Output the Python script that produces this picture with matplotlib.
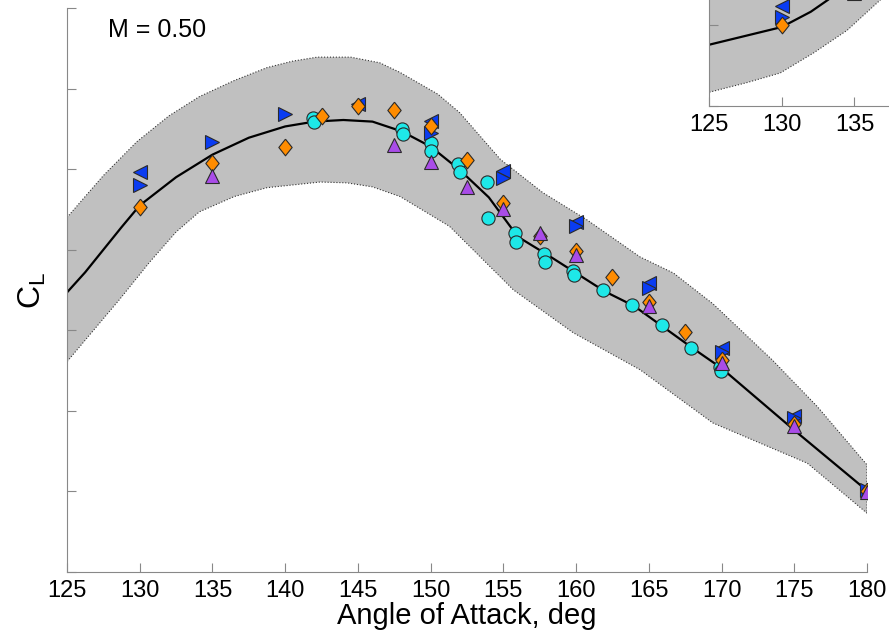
import numpy as np
import matplotlib
matplotlib.use("Agg")
import matplotlib.pyplot as plt

plt.rcParams["font.family"] = ["Liberation Sans", "DejaVu Sans"]

# ---- main panel data (M = 0.50), y in arbitrary C_L units (ticks every 1) ----
fit_x = [125, 126.25, 127.5, 128.75, 130, 132.5, 135, 137.5, 140, 142, 144, 146,
         148, 150, 152, 154, 156, 158, 160, 162, 164, 166, 168, 170, 175, 180]
fit_y = [3.47, 3.72, 4.00, 4.28, 4.55, 4.90, 5.18, 5.39, 5.53, 5.59, 5.61, 5.59,
         5.47, 5.28, 4.99, 4.65, 4.16, 3.94, 3.71, 3.48, 3.30, 3.04, 2.78, 2.53,
         1.76, 1.01]

band_up_x = [125, 127.5, 129.8, 132, 134.1, 136.5, 138.75, 140.5, 142.2, 144.5,
             146.5, 147.9, 150.5, 152.0, 154.8, 157.7, 160.75, 164.4, 166.7,
             169.4, 173.5, 176.6, 180]
band_up_y = [4.40, 4.92, 5.34, 5.66, 5.90, 6.10, 6.26, 6.34, 6.39, 6.39,
             6.32, 6.20, 5.93, 5.70, 5.12, 4.71, 4.37, 3.91, 3.71,
             3.33, 2.63, 2.05, 1.33]
band_lo_x = [125, 128.6, 130.7, 132.5, 134.1, 136.5, 138.75, 142.4, 144.25,
             146.0, 147.9, 151.3, 155.7, 159.8, 164.4, 169.4, 175.9, 180]
band_lo_y = [2.61, 3.38, 3.85, 4.22, 4.47, 4.66, 4.77, 4.84, 4.83,
             4.78, 4.66, 4.29, 3.50, 2.97, 2.51, 1.85, 1.35, 0.73]

lt_x = [130, 145, 150, 155, 160, 165, 170, 175, 180]
lt_y = [4.96, 5.81, 5.60, 4.98, 4.35, 3.59, 2.78, 1.94, 1.02]

rt_x = [130, 135, 140, 150, 155, 160, 165, 170, 175, 180]
rt_y = [4.80, 5.34, 5.69, 5.45, 4.89, 4.29, 3.52, 2.73, 1.91, 1.02]

dia_x = [130, 135, 140, 142.5, 145, 147.5, 150, 152.5, 155, 157.5, 160, 162.5,
         165, 167.5, 170, 175, 180]
dia_y = [4.53, 5.08, 5.27, 5.66, 5.78, 5.74, 5.53, 5.11, 4.58, 4.17, 3.98, 3.66,
         3.35, 2.98, 2.63, 1.84, 1.01]

tri_x = [135, 147.5, 150, 152.5, 155, 157.5, 160, 165, 170, 175, 180]
tri_y = [4.91, 5.30, 5.09, 4.78, 4.50, 4.21, 3.94, 3.30, 2.60, 1.81, 0.99]

circ_x = [141.9, 142.0, 148.0, 148.1, 150.0, 150.05, 151.9, 152.0, 153.9, 153.95,
          155.8, 155.85, 157.8, 157.85, 159.8, 159.85, 161.85, 163.85, 165.9,
          167.9, 169.9, 169.95]
circ_y = [5.63, 5.58, 5.50, 5.43, 5.32, 5.23, 5.06, 4.96, 4.84, 4.39,
          4.21, 4.10, 3.95, 3.85, 3.73, 3.69, 3.50, 3.32, 3.06,
          2.78, 2.55, 2.50]

# ---- neighbouring panel (cropped at top right) ----
ins_fit_x = [125, 130, 132, 133.2, 135, 137]
ins_fit_y = [0.76, 0.98, 1.17, 1.32, 1.60, 1.95]
ins_up_x = [125, 130, 135, 140]
ins_up_y = [1.50, 1.80, 2.30, 2.80]
ins_lo_x = [125, 127.6, 129.9, 132.2, 134.5, 136.8, 139]
ins_lo_y = [0.17, 0.29, 0.41, 0.66, 0.94, 1.32, 1.70]
ins_lt = ([130], [1.24])
ins_rt = ([130], [1.11])
ins_dia = ([130], [1.01])
ins_tri = ([135], [1.40])

xticks = list(range(125, 181, 5))

blue = "#0a3cf2"
orange = "#ff8c00"
purple = "#a94ce8"
cyan = "#1ee8e8"
edge = "#2a2a2a"
diamond = [(0, 1), (0.8, 0), (0, -1), (-0.8, 0), (0, 1)]


def draw_panel(ax, fx, fy, ux, uy, lx, ly, pts, ticks):
    poly_x = list(ux) + list(lx)[::-1]
    poly_y = list(uy) + list(ly)[::-1]
    ax.fill(poly_x, poly_y, facecolor="#c0c0c0", edgecolor="#333333",
            linestyle=":", linewidth=0.8, zorder=1)
    ax.plot(fx, fy, color="black", lw=1.6, zorder=2)
    for (px, py), kw in pts:
        ax.plot(px, py, linestyle="none", markeredgecolor=edge,
                markeredgewidth=0.8, zorder=3, **kw)
    ax.set_xlim(125, 180)
    ax.set_ylim(0, 7)
    ax.set_xticks(ticks)
    ax.set_yticks(range(0, 8))
    ax.set_yticklabels([])
    ax.tick_params(direction="in", length=6.5, color="#888888", labelsize=17,
                   pad=6)
    for s in ["top", "right"]:
        ax.spines[s].set_visible(False)
    for s in ["left", "bottom"]:
        ax.spines[s].set_color("#888888")


fig = plt.figure(figsize=(8.89, 6.32), dpi=100)
ax = fig.add_axes([67 / 889, 60 / 632, 800 / 889, 564 / 632])
draw_panel(ax, fit_x, fit_y, band_up_x, band_up_y, band_lo_x, band_lo_y, [
    ((circ_x, circ_y), dict(marker="o", ms=9.5, color=cyan)),
    ((lt_x, lt_y), dict(marker="<", ms=10.5, color=blue)),
    ((rt_x, rt_y), dict(marker=">", ms=10.5, color=blue)),
    ((dia_x, dia_y), dict(marker=diamond, ms=12, color=orange)),
    ((tri_x, tri_y), dict(marker="^", ms=10.5, color=purple)),
], xticks)
ax.set_xlabel("Angle of Attack, deg", fontsize=21, labelpad=0)
ax.set_ylabel(r"C$_\mathregular{L}$", fontsize=23, labelpad=8)
ax.text(0.051, 0.961, "M = 0.50", transform=ax.transAxes, fontsize=18,
        va="center", ha="left")

ins = fig.add_axes([709 / 889, (632 - 106) / 632, 800 / 889, 564 / 632])
draw_panel(ins, ins_fit_x, ins_fit_y, ins_up_x, ins_up_y, ins_lo_x, ins_lo_y, [
    (ins_lt, dict(marker="<", ms=10.5, color=blue)),
    (ins_rt, dict(marker=">", ms=10.5, color=blue)),
    (ins_dia, dict(marker=diamond, ms=12, color=orange)),
    (ins_tri, dict(marker="^", ms=10.5, color=purple)),
], xticks[:3])

fig.savefig("out.png", dpi=100)
